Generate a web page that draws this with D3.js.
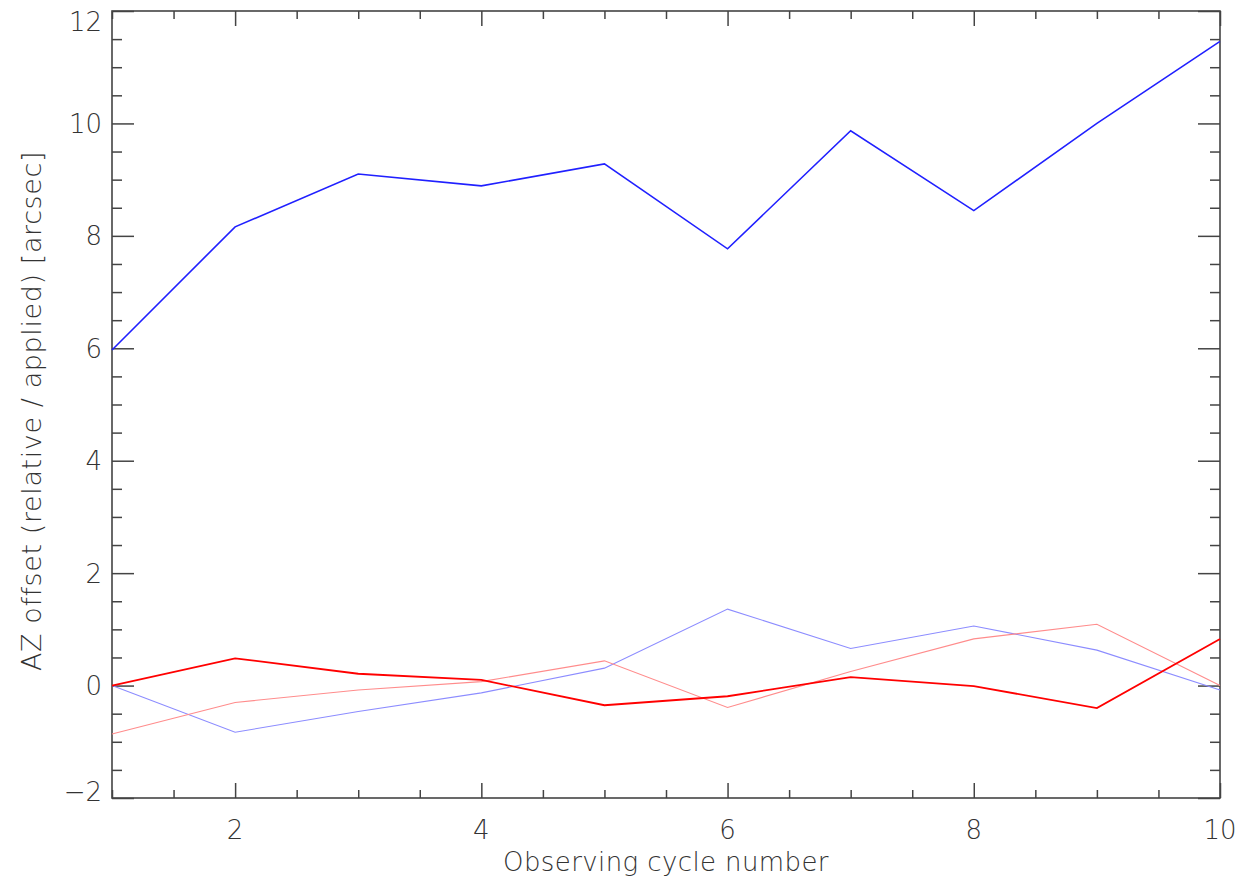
<!DOCTYPE html>
<html>
<head>
<meta charset="utf-8">
<script src="https://cdn.jsdelivr.net/npm/d3@7"></script>
<style>
  html, body { margin: 0; padding: 0; background: #fff; }
  svg { display: block; }
  .lbl { font-family: "DejaVu Sans", sans-serif; font-weight: 200; fill: #333; }
</style>
</head>
<body>
<svg id="chart" width="1244" height="879"></svg>
<script>
const cycles = [1, 2, 3, 4, 5, 6, 7, 8, 9, 10];
const blueThick = [5.97, 8.16, 9.10, 8.89, 9.28, 7.77, 9.87, 8.45, 10.0, 11.46];
const blueThin  = [0.0, -0.83, -0.46, -0.13, 0.31, 1.36, 0.66, 1.06, 0.63, -0.08];
const redThick  = [0.0, 0.485, 0.21, 0.10, -0.35, -0.19, 0.15, -0.01, -0.40, 0.83];
const redThin   = [-0.86, -0.30, -0.08, 0.07, 0.44, -0.39, 0.25, 0.83, 1.09, 0.0];
const xMajorTicks = [2, 4, 6, 8, 10];
const yMajorTicks = [-2, 0, 2, 4, 6, 8, 10, 12];
const xLabel = "Observing cycle number";
const yLabel = "AZ offset (relative / applied) [arcsec]";

const L = 112, R = 1220, T = 11, B = 798;
const svg = d3.select("#chart");
const x = d3.scaleLinear().domain([1, 10]).range([L, R]);
const y = d3.scaleLinear().domain([-2, 12]).range([B, T]);

const xMinor = d3.range(1, 10.01, 0.5).filter(v => xMajorTicks.indexOf(v) < 0);
const yMinor = d3.range(-2, 12.01, 0.5).filter(v => yMajorTicks.indexOf(v) < 0);

const axisColor = "#444";
function styleAxis(g) {
  g.select(".domain").remove();
  g.selectAll(".tick line").attr("stroke", axisColor).attr("stroke-width", 1.5);
  g.selectAll(".tick text").remove();
}
// bottom
svg.append("g").attr("transform", `translate(0,${B})`)
  .call(d3.axisTop(x).tickValues(xMajorTicks).tickSize(15)).call(styleAxis);
svg.append("g").attr("transform", `translate(0,${B})`)
  .call(d3.axisTop(x).tickValues(xMinor).tickSize(8)).call(styleAxis);
// top
svg.append("g").attr("transform", `translate(0,${T})`)
  .call(d3.axisBottom(x).tickValues(xMajorTicks).tickSize(15)).call(styleAxis);
svg.append("g").attr("transform", `translate(0,${T})`)
  .call(d3.axisBottom(x).tickValues(xMinor).tickSize(8)).call(styleAxis);
// left
svg.append("g").attr("transform", `translate(${L},0)`)
  .call(d3.axisRight(y).tickValues(yMajorTicks).tickSize(22)).call(styleAxis);
svg.append("g").attr("transform", `translate(${L},0)`)
  .call(d3.axisRight(y).tickValues(yMinor).tickSize(10)).call(styleAxis);
// right
svg.append("g").attr("transform", `translate(${R},0)`)
  .call(d3.axisLeft(y).tickValues(yMajorTicks).tickSize(22)).call(styleAxis);
svg.append("g").attr("transform", `translate(${R},0)`)
  .call(d3.axisLeft(y).tickValues(yMinor).tickSize(10)).call(styleAxis);

// frame
svg.append("rect").attr("x", L).attr("y", T).attr("width", R - L).attr("height", B - T)
  .attr("fill", "none").attr("stroke", axisColor).attr("stroke-width", 1.6);

// tick labels
svg.append("g").selectAll("text").data(xMajorTicks).join("text")
  .attr("class", "lbl").attr("x", d => x(d)).attr("y", B + 41)
  .attr("text-anchor", "middle").attr("font-size", 26).text(d => d);
svg.append("g").selectAll("text").data(yMajorTicks).join("text")
  .attr("class", "lbl").attr("x", L - 10)
  .attr("y", d => {
    let cy = y(d);
    if (d === 12) cy = y(d) + 10;      // keep top label inside, as in the reference
    if (d === -2) cy = y(d) - 7;
    return cy + 9.5;
  })
  .attr("text-anchor", "end").attr("font-size", 26)
  .text(d => d < 0 ? "\u2212" + Math.abs(d) : d);

// axis titles
svg.append("text").attr("class", "lbl").attr("x", 666).attr("y", 871)
  .attr("text-anchor", "middle").attr("font-size", 26).attr("letter-spacing", 0.4).text(xLabel);
svg.append("text").attr("class", "lbl")
  .attr("transform", `translate(41,411) rotate(-90)`)
  .attr("text-anchor", "middle").attr("font-size", 27).attr("letter-spacing", 0.6).text(yLabel);

// lines
const line = d3.line().x((d, i) => x(cycles[i])).y(d => y(d));
const series = [
  { v: blueThin,  c: "#8c8cff", w: 1.1 },
  { v: redThin,   c: "#ff8c8c", w: 1.1 },
  { v: redThick,  c: "#ff0000", w: 1.8 },
  { v: blueThick, c: "#2020ff", w: 1.6 }
];
svg.append("g").selectAll("path").data(series).join("path")
  .attr("d", d => line(d.v)).attr("fill", "none")
  .attr("stroke", d => d.c).attr("stroke-width", d => d.w);
</script>
</body>
</html>
